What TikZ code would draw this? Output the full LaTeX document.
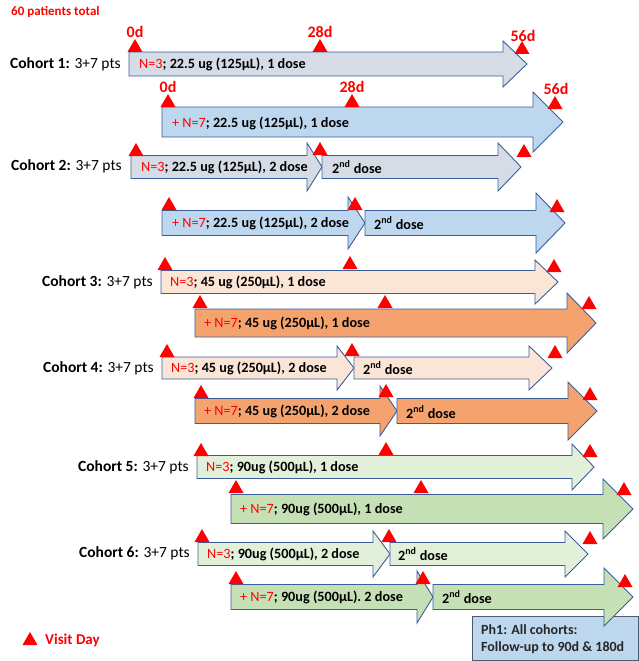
\documentclass[tikz,border=0pt]{standalone}
\usepackage{fontspec}
\setmainfont{Carlito}
\definecolor{bordc}{HTML}{3A5E9C}
\definecolor{greyf}{HTML}{D6DCE5}
\definecolor{bluef}{HTML}{BDD7EE}
\definecolor{peachf}{HTML}{FBE5D6}
\definecolor{orangef}{HTML}{F4A36E}
\definecolor{lgreenf}{HTML}{E2F0D9}
\definecolor{greenf}{HTML}{C5E0B4}
\definecolor{boxb}{HTML}{4A5A70}
\definecolor{visred}{HTML}{FF0000}
\newcommand\barrow[7]{% style, x1, xb, tip, yc, bodyhalf, headhalf
  \draw[arr,#1] (#2,#5-#6) -- (#3,#5-#6) -- (#3,#5-#7) -- (#4,#5) -- (#3,#5+#7) -- (#3,#5+#6) -- (#2,#5+#6) -- cycle;}
\newcommand\vis[2]{\fill[visred] (#1-7.5,#2) -- (#1+7.5,#2) -- (#1,#2-13) -- cycle;}
\tikzset{
  arr/.style={draw=bordc, line width=0.9pt, line join=miter},
  txt/.style={anchor=west, inner sep=0pt, font=\fontsize{14.2}{16}\selectfont\bfseries, text=black},
  coh/.style={anchor=east, inner sep=0pt, font=\fontsize{15.5}{17}\selectfont, text=black},
  day/.style={text=visred, font=\fontsize{16}{18}\selectfont\bfseries, inner sep=0pt},
}
\newcommand\nn[1]{\textcolor{visred}{\mdseries #1}}
\newcommand\snd{2\textsuperscript{nd} dose}
\begin{document}
\begin{tikzpicture}[x=1pt,y=-1pt]
\useasboundingbox (0,0) rectangle (639,661);
% title
\node[anchor=west, inner sep=0pt, text=visred, font=\fontsize{13}{15}\selectfont\bfseries] (title) at (11,12) {60 patients total};
% Cohort 1
\barrow{fill=greyf}{129}{503}{527}{64}{12}{23}
\barrow{fill=bluef}{162}{533}{563}{122}{15}{30}
% Cohort 2
\barrow{fill=greyf}{131}{307}{322}{167}{11.5}{24}
\barrow{fill=greyf}{322}{498}{521}{167}{11.5}{24}
\barrow{fill=bluef}{162}{348}{365}{223}{12.5}{26}
\barrow{fill=bluef}{365}{536}{565}{223}{12.5}{30}
% Cohort 3
\barrow{fill=peachf}{161}{535}{558}{282}{11.5}{22}
\barrow{fill=orangef}{195}{567}{596}{323}{14}{30}
% Cohort 4
\barrow{fill=peachf}{162}{337}{354}{368}{11}{22}
\barrow{fill=peachf}{354}{529}{552}{368}{11}{22}
\barrow{fill=orangef}{195}{380}{397}{411}{12.5}{25}
\barrow{fill=orangef}{397}{568}{597}{411}{12.5}{29}
% Cohort 5
\barrow{fill=lgreenf}{197}{572}{594}{467}{11.5}{23}
\barrow{fill=greenf}{231}{603}{633}{509}{14.5}{30}
% Cohort 6
\barrow{fill=lgreenf}{198}{373}{390}{554}{11.5}{23}
\barrow{fill=lgreenf}{390}{565}{588}{554}{11.5}{23}
\barrow{fill=greenf}{231}{417}{433}{597}{12.5}{26}
% Ph1 box
\node[draw=boxb, line width=0.9pt, fill=bluef, minimum width=166pt, minimum height=44pt, anchor=north west, inner sep=0pt] (ph1) at (472,616) {};
\node[anchor=west, inner sep=0pt, align=left, font=\fontsize{14}{17.5}\selectfont\bfseries, text=black!85] (ph1txt) at (481,639) {Ph1: All cohorts:\\Follow-up to 90d \& 180d};
\barrow{fill=greenf}{433}{604}{633}{597}{12.5}{29}
% cohort labels
\node[coh] (c1) at (121,64) {\textbf{Cohort 1:} 3+7 pts};
\node[coh] (c2) at (122,166) {\textbf{Cohort 2:} 3+7 pts};
\node[coh] (c3) at (153,282) {\textbf{Cohort 3:} 3+7 pts};
\node[coh] (c4) at (154,368) {\textbf{Cohort 4:} 3+7 pts};
\node[coh] (c5) at (189,467) {\textbf{Cohort 5:} 3+7 pts};
\node[coh] (c6) at (190,553) {\textbf{Cohort 6:} 3+7 pts};
% arrow texts
\node[txt] (t1a) at (139,64) {\nn{N=3}; 22.5 ug (125µL), 1 dose};
\node[txt] (t1b) at (172,123) {\nn{+ N=7}; 22.5 ug (125µL), 1 dose};
\node[txt] (t2a) at (141,167) {\nn{N=3}; 22.5 ug (125µL), 2 dose};
\node[txt] (t2b) at (332,167) {\snd};
\node[txt] (t2c) at (172,223) {\nn{+ N=7}; 22.5 ug (125µL), 2 dose};
\node[txt] (t2d) at (374,223) {\snd};
\node[txt] (t3a) at (170,282) {\nn{N=3}; 45 ug (250µL), 1 dose};
\node[txt] (t3b) at (204,323) {\nn{+ N=7}; 45 ug (250µL), 1 dose};
\node[txt] (t4a) at (171,368) {\nn{N=3}; 45 ug (250µL), 2 dose};
\node[txt] (t4b) at (363,368) {\snd};
\node[txt] (t4c) at (204,411) {\nn{+ N=7}; 45 ug (250µL), 2 dose};
\node[txt] (t4d) at (406,412) {\snd};
\node[txt] (t5a) at (206,467) {\nn{N=3}; 90ug (500µL), 1 dose};
\node[txt] (t5b) at (240,509) {\nn{+ N=7}; 90ug (500µL), 1 dose};
\node[txt] (t6a) at (207,554) {\nn{N=3}; 90ug (500µL), 2 dose};
\node[txt] (t6b) at (398,554) {\snd};
\node[txt] (t6c) at (240,597) {\nn{+ N=7}; 90ug (500µL). 2 dose};
\node[txt] (t6d) at (442,597) {\snd};
% day labels
\node[day] (d0a) at (135,32) {0d};
\node[day] (d28a) at (320,32) {28d};
\node[day] (d56a) at (523,36) {56d};
\node[day] (d0b) at (168,87) {0d};
\node[day] (d28b) at (352,87) {28d};
\node[day] (d56b) at (556,89) {56d};
% visit markers
\vis{135}{52}\vis{320}{52}\vis{522}{54}
\vis{168}{107}\vis{352}{107}\vis{555}{109}
\vis{136}{156}\vis{320}{155}\vis{524}{157}
\vis{169}{210}\vis{355}{210}\vis{557}{212}
\vis{165}{270}\vis{350}{269}\vis{554}{272}
\vis{200}{308}\vis{385}{308}\vis{589}{309}
\vis{167}{357}\vis{352}{356}\vis{555}{358}
\vis{201}{398}\vis{386}{397}\vis{590}{400}
\vis{201}{456}\vis{386}{455}\vis{590}{457}
\vis{236}{493}\vis{421}{493}\vis{624}{495}
\vis{202}{542}\vis{389}{542}\vis{590}{544}
\vis{236}{584}\vis{423}{584}\vis{625}{587}
% legend
\vis{30}{645}
\node[anchor=west, inner sep=0pt, text=visred, font=\fontsize{15}{17}\selectfont\bfseries] (legend) at (45,640) {Visit Day};
\end{tikzpicture}
\end{document}
